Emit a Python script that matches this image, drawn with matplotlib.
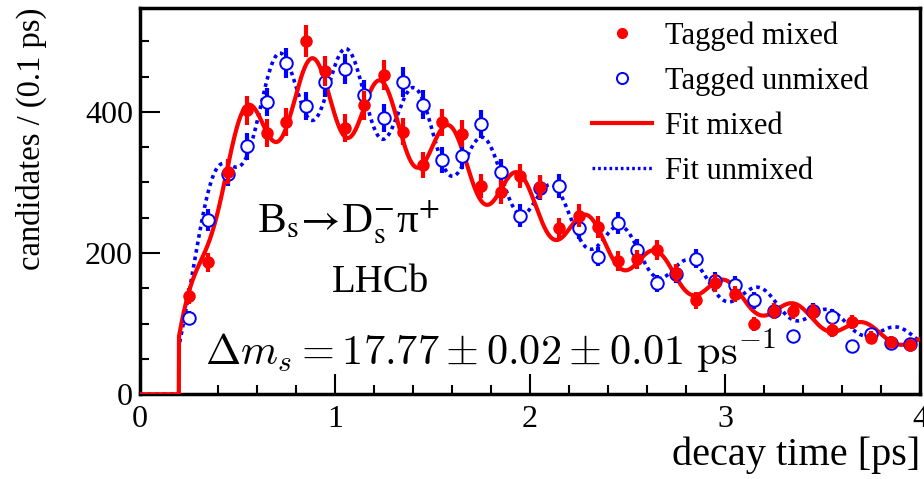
import numpy as np
import matplotlib
matplotlib.use("Agg")
import matplotlib.pyplot as plt
from matplotlib.lines import Line2D
from matplotlib.ticker import MultipleLocator

plt.rcParams['font.family'] = ['Liberation Serif', 'DejaVu Serif']

# bin centres (0.1 ps bins)
t_bins = [0.25, 0.35, 0.45, 0.55, 0.65, 0.75, 0.85, 0.95, 1.05, 1.15,
          1.25, 1.35, 1.45, 1.55, 1.65, 1.75, 1.85, 1.95, 2.05, 2.15,
          2.25, 2.35, 2.45, 2.55, 2.65, 2.75, 2.85, 2.95, 3.05, 3.15,
          3.25, 3.35, 3.45, 3.55, 3.65, 3.75, 3.85, 3.95]
mixed = [139, 187, 315, 402, 370, 386, 500, 458, 377, 409,
         452, 372, 325, 385, 369, 295, 286, 309, 294, 235,
         253, 237, 189, 191, 204, 172, 133, 158, 142, 100,
         118, 118, 117, 91, 102, 80, 74, 70]
unmixed = [108, 247, 312, 351, 414, 469, 408, 442, 461, 424,
           391, 442, 410, 332, 338, 383, 315, 253, 292, 295,
           235, 195, 243, 205, 157, 171, 192, 160, 155, 133,
           118, 82, 118, 110, 69, 85, 73, 71]

# fit parameters
dms = 17.77
gamma = 0.66
dilution = 0.125
norm_mix = 1050
norm_unmix = 1100
t_min = 0.2
acc_k = 1.75
acc_a = 0.92


def fit_curve(t, norm, sign):
    acc = 1 - acc_a * np.exp(-acc_k * (t - t_min))
    f = norm * acc * np.exp(-gamma * t) * (1 + sign * dilution * np.cos(dms * t))
    return np.where(t < t_min, 0, f)


t = np.linspace(0, 4, 4001)

fig = plt.figure(figsize=(9.24, 4.79), dpi=100)
ax = fig.add_axes([140/924, 1-394.3/479, 780/924, 386.3/479])

ax.plot(t, fit_curve(t, norm_unmix, 1), color='#0000ff', lw=2.6, ls=(0, (1, 1.1)), zorder=3)
ax.plot(t, fit_curve(t, norm_mix, -1), color='#ff0000', lw=3.0, zorder=4)

ax.errorbar(t_bins, unmixed, yerr=np.sqrt(unmixed), fmt='o', color='#0000ff',
            mfc='white', mec='#0000ff', mew=1.4, ms=9, elinewidth=3, capsize=0, zorder=5)
ax.errorbar(t_bins, mixed, yerr=np.sqrt(mixed), fmt='o', color='#ff0000',
            ms=8, elinewidth=3, capsize=0, zorder=6)

ax.set_xlim(0, 4)
ax.set_ylim(0, 547)
ax.xaxis.set_major_locator(MultipleLocator(1))
ax.xaxis.set_minor_locator(MultipleLocator(0.2))
ax.yaxis.set_major_locator(MultipleLocator(200))
ax.yaxis.set_minor_locator(MultipleLocator(50))
ax.tick_params(which='both', direction='in', top=False, right=False, width=1.5)
ax.tick_params(which='major', length=14.5, labelsize=23)
ax.tick_params(which='minor', length=6.8)
ax.tick_params(axis='x', which='major', pad=8)
ax.tick_params(axis='y', which='major', pad=5)
for s in ax.spines.values():
    s.set_linewidth(2.5)

ax.set_ylabel('candidates / (0.1 ps)', fontsize=23.5, loc='top')
ax.yaxis.set_label_coords(-0.119, 1.0)
ax.set_xlabel('decay time [ps]', fontsize=29, loc='right')
ax.xaxis.set_label_coords(1.0, -0.11)

ax.text(0.15, 0.42, r'B$_{\mathrm{s}}\!\rightarrow\!$D$_{\mathrm{s}}^{-}$π$^{+}$',
        transform=ax.transAxes, fontsize=31, va='baseline', ha='left', math_fontfamily='stix')
ax.text(0.246, 0.265, 'LHCb', transform=ax.transAxes, fontsize=28, va='baseline', ha='left')
ax.text(0.083, 0.076, r'$\Delta m_s = 17.77 \pm 0.02 \pm 0.01\ \mathrm{ps}^{-1}$',
        transform=ax.transAxes, fontsize=30.5, va='baseline', ha='left', math_fontfamily='cm')

handles = [
    Line2D([], [], ls='none', marker='o', color='#ff0000', ms=7),
    Line2D([], [], ls='none', marker='o', mfc='white', mec='#0000ff', mew=1.4, ms=8),
    Line2D([], [], color='#ff0000', lw=3),
    Line2D([], [], color='#0000ff', lw=2.4, ls=(0, (0.8, 0.9))),
]
labels = ['Tagged mixed', 'Tagged unmixed', 'Fit mixed', 'Fit unmixed']
ax.legend(handles, labels, loc='upper left', bbox_to_anchor=((592-140)/780, 0.966),
          frameon=False, fontsize=22, handlelength=1.96, handletextpad=0.42,
          labelspacing=0.52, borderpad=0, borderaxespad=0)

fig.savefig('out.png', dpi=100)
